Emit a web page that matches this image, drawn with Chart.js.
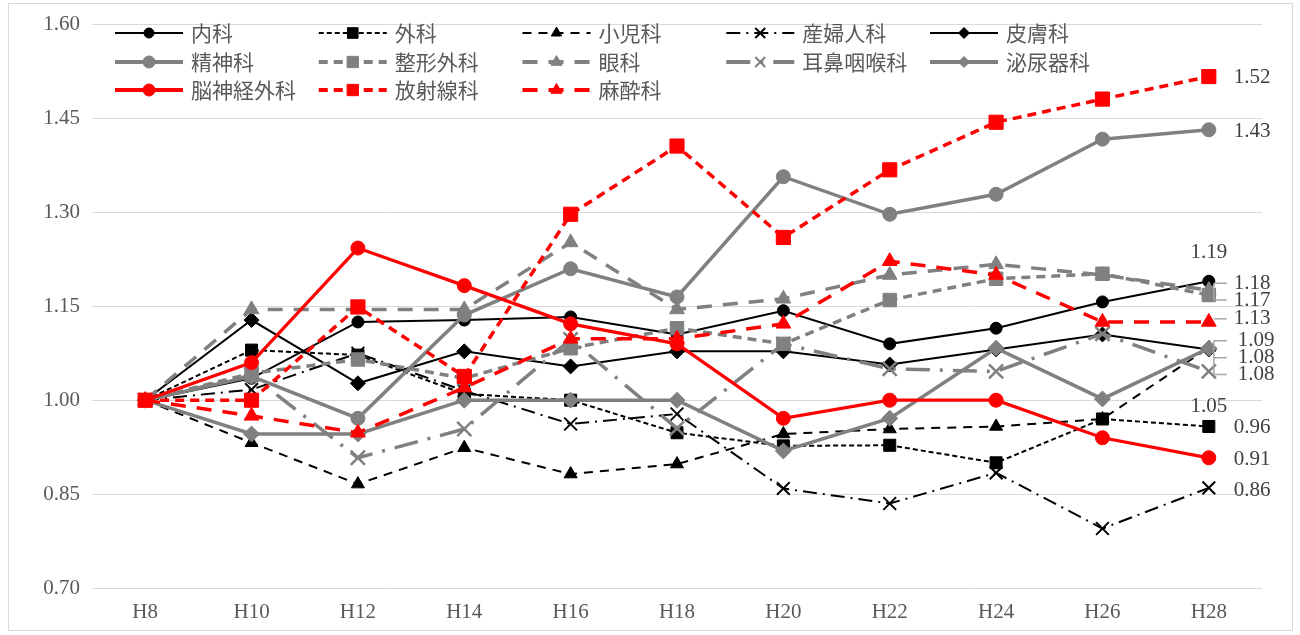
<!DOCTYPE html>
<html>
<head>
<meta charset="utf-8">
<script src="https://cdn.jsdelivr.net/npm/chart.js@4.4.1/dist/chart.umd.min.js"></script>
<style>
  html, body { margin: 0; padding: 0; background: #ffffff; }
  #wrap { position: relative; width: 1300px; height: 635px; }
</style>
</head>
<body>
<div id="wrap"><canvas id="c" width="1300" height="635"></canvas></div>
<script>
// ---- data ----
const categories = ['H8','H10','H12','H14','H16','H18','H20','H22','H24','H26','H28'];
const seriesNames = ['内科','外科','小児科','産婦人科','皮膚科','精神科','整形外科','眼科','耳鼻咽喉科','泌尿器科','脳神経外科','放射線科','麻酔科'];
const naika      = [1.00, 1.035, 1.125, 1.128, 1.133, 1.105, 1.143, 1.090, 1.115, 1.157, 1.190];
const geka       = [1.00, 1.080, 1.072, 1.010, 1.000, 0.948, 0.927, 0.928, 0.900, 0.970, 0.958];
const shonika    = [1.00, 0.932, 0.866, 0.924, 0.882, 0.898, 0.946, 0.954, 0.958, 0.970, 1.084];
const sanfujinka = [1.00, 1.017, 1.075, 1.015, 0.962, 0.978, 0.859, 0.835, 0.884, 0.795, 0.860];
const hifuka     = [1.00, 1.128, 1.027, 1.078, 1.054, 1.078, 1.078, 1.057, 1.081, 1.105, 1.081];
const seishinka  = [1.00, 1.038, 0.971, 1.136, 1.210, 1.165, 1.357, 1.297, 1.329, 1.417, 1.432];
const seikeigeka = [1.00, 1.043, 1.065, 1.035, 1.083, 1.115, 1.090, 1.160, 1.194, 1.202, 1.168];
const ganka      = [1.00, 1.145, 1.145, 1.145, 1.252, 1.145, 1.162, 1.200, 1.217, 1.200, 1.176];
const jibika     = [1.00, 1.040, 0.908, 0.954, 1.097, 0.955, 1.090, 1.050, 1.046, 1.106, 1.046];
const hinyokika  = [1.00, 0.946, 0.946, 1.000, 1.000, 1.000, 0.919, 0.971, 1.083, 1.002, 1.083];
const noshinkei  = [1.00, 1.060, 1.243, 1.183, 1.122, 1.090, 0.971, 1.000, 1.000, 0.940, 0.908];
const hoshasen   = [1.00, 1.000, 1.149, 1.038, 1.297, 1.406, 1.260, 1.368, 1.444, 1.481, 1.517];
const masuika    = [1.00, 0.975, 0.948, 1.020, 1.098, 1.098, 1.122, 1.222, 1.200, 1.125, 1.125];
const yTickMin = 0.70, yTickMax = 1.60, yTickStep = 0.15;
// end-of-line value labels (text, and the value level where each label sits)
const endLabelText  = ['1.52','1.43','1.19','1.18','1.17','1.13','1.09','1.08','1.08','1.05','0.96','0.91','0.86'];
const endLabelLevel = [1.516, 1.430, 1.236, 1.187, 1.160, 1.130, 1.095, 1.068, 1.041, 0.990, 0.956, 0.906, 0.856];

// ---- styles ----
const BLACK = '#000000', GREY = '#808080', RED = '#ff0000';
const seriesValues = [naika, geka, shonika, sanfujinka, hifuka, seishinka, seikeigeka, ganka, jibika, hinyokika, noshinkei, hoshasen, masuika];
const styleDefs = [
  {c: BLACK, w: 2,   dash: [],            ps: 'circle',   r: 6,   lr: 5},
  {c: BLACK, w: 2,   dash: [5, 3],        ps: 'rect',     r: 8.5, lr: 7.5},
  {c: BLACK, w: 2,   dash: [9, 7],        ps: 'triangle', r: 7.5, lr: 6},
  {c: BLACK, w: 2,   dash: [14, 6, 2, 6], ps: 'crossRot', r: 9,   lr: 7},
  {c: BLACK, w: 2,   dash: [],            ps: 'rectRot',  r: 7.5, lr: 5.5},
  {c: GREY,  w: 3.5, dash: [],            ps: 'circle',   r: 7,   lr: 6},
  {c: GREY,  w: 3.5, dash: [9, 6],        ps: 'rect',     r: 9.5, lr: 8},
  {c: GREY,  w: 3.5, dash: [15, 11],      ps: 'triangle', r: 8.5, lr: 6.5},
  {c: GREY,  w: 3.5, dash: [24, 10, 3, 10], ps: 'crossRot', r: 10, lr: 7},
  {c: GREY,  w: 3.5, dash: [],            ps: 'rectRot',  r: 8,   lr: 5.5},
  {c: RED,   w: 3.25, dash: [],           ps: 'circle',   r: 7,   lr: 6},
  {c: RED,   w: 3.5, dash: [9, 6],        ps: 'rect',     r: 10,  lr: 8},
  {c: RED,   w: 3.5, dash: [15, 11],      ps: 'triangle', r: 8.5, lr: 6.5}
];

const datasets = seriesNames.map((name, i) => {
  const s = styleDefs[i];
  const cross = s.ps === 'crossRot';
  return {
    label: name,
    data: seriesValues[i],
    borderColor: s.c,
    backgroundColor: s.c,
    borderWidth: s.w,
    borderDash: s.dash,
    pointStyle: s.ps,
    pointRadius: s.r,
    pointBackgroundColor: s.c,
    pointBorderColor: s.c,
    pointBorderWidth: cross ? (s.c === GREY ? 2.5 : 2) : 1,
    tension: 0,
    fill: false,
    order: seriesNames.length - i,
    clip: false
  };
});

const NUM_FONT = "'Liberation Serif', 'Noto Sans CJK JP', serif";
const NUM_SIZE = 21;
const JP_FONT = "'Noto Sans CJK JP', 'Noto Sans', sans-serif";

const frameAndLegend = {
  id: 'frameAndLegend',
  beforeDraw(chart) {
    const ctx = chart.ctx;
    ctx.save();
    ctx.fillStyle = '#ffffff';
    ctx.fillRect(0, 0, chart.width, chart.height);
    ctx.strokeStyle = '#d9d9d9';
    ctx.lineWidth = 1;
    ctx.strokeRect(8.5, 3.5, 1284, 627);
    ctx.restore();
  },
  afterDatasetsDraw(chart) {
    const ctx = chart.ctx;
    const xs = chart.scales.x, ys = chart.scales.y;
    const lastX = xs.getPixelForValue(categories.length - 1);
    ctx.save();
    // leader lines
    ctx.strokeStyle = '#a6a6a6';
    ctx.lineWidth = 1.5;
    const lx0 = lastX + 5, lx1 = lastX + 18;
    const groups = [[3, 4], [5], [6, 7, 8]];
    groups.forEach(g => {
      const yy = g.map(k => ys.getPixelForValue(endLabelLevel[k]));
      ctx.beginPath();
      yy.forEach(y => { ctx.moveTo(lx0, y); ctx.lineTo(lx1, y); });
      if (yy.length > 1) { ctx.moveTo(lx0, Math.min(...yy)); ctx.lineTo(lx0, Math.max(...yy)); }
      ctx.stroke();
    });
    // labels
    ctx.font = NUM_SIZE + 'px ' + NUM_FONT;
    ctx.fillStyle = '#404040';
    ctx.textBaseline = 'middle';
    endLabelText.forEach((t, k) => {
      const y = ys.getPixelForValue(endLabelLevel[k]);
      if (k === 2 || k === 9) {
        ctx.textAlign = 'center';
        ctx.fillText(t, lastX, y);
      } else {
        ctx.textAlign = 'left';
        const dx = (k >= 6 && k <= 8) ? 29 : 25;
        ctx.fillText(t, lastX + dx, y);
      }
    });
    ctx.restore();
  },
  afterDraw(chart) {
    const ctx = chart.ctx;
    const rowsY = [33, 62, 90];
    ctx.save();
    chart.data.datasets.forEach((ds, i) => {
      const col = i % 5, row = Math.floor(i / 5);
      const x0 = 115 + col * 203.75, y = rowsY[row];
      const s = styleDefs[i];
      ctx.save();
      ctx.strokeStyle = s.c;
      ctx.lineWidth = s.c === BLACK ? 2 : 4;
      ctx.setLineDash(s.dash);
      ctx.beginPath();
      ctx.moveTo(x0, y);
      ctx.lineTo(x0 + 68, y);
      ctx.stroke();
      ctx.setLineDash([]);
      ctx.fillStyle = s.c;
      ctx.strokeStyle = s.c;
      ctx.lineWidth = s.ps === 'crossRot' ? 2 : 1;
      Chart.helpers.drawPoint(ctx, {pointStyle: s.ps, radius: s.lr, borderWidth: ctx.lineWidth, rotation: 0}, x0 + 34, y);
      ctx.restore();
      ctx.font = '21px ' + JP_FONT;
      ctx.fillStyle = '#595959';
      ctx.textAlign = 'left';
      ctx.textBaseline = 'middle';
      ctx.fillText(ds.label, x0 + 76, y);
    });
    ctx.restore();
  }
};

new Chart(document.getElementById('c'), {
  type: 'line',
  data: { labels: categories, datasets: datasets },
  options: {
    responsive: false,
    animation: false,
    devicePixelRatio: 1,
    layout: { padding: { left: 0, right: 38, top: 21, bottom: 0 } },
    plugins: { legend: { display: false }, tooltip: { enabled: false } },
    scales: {
      x: {
        offset: true,
        grid: { display: false, drawTicks: false },
        border: { display: false },
        ticks: { font: { family: NUM_FONT, size: NUM_SIZE }, color: '#595959', padding: 12, maxRotation: 0, autoSkip: false },
        afterFit(scale) { scale.height = 47; }
      },
      y: {
        min: yTickMin, max: yTickMax,
        grid: { color: '#d9d9d9', lineWidth: 1, drawTicks: false },
        border: { display: false },
        ticks: { stepSize: yTickStep, padding: 12, font: { family: NUM_FONT, size: NUM_SIZE }, color: '#595959',
                 callback: v => Number(v).toFixed(2) },
        afterFit(scale) { scale.width = 92; }
      }
    }
  },
  plugins: [frameAndLegend]
});
</script>
</body>
</html>
